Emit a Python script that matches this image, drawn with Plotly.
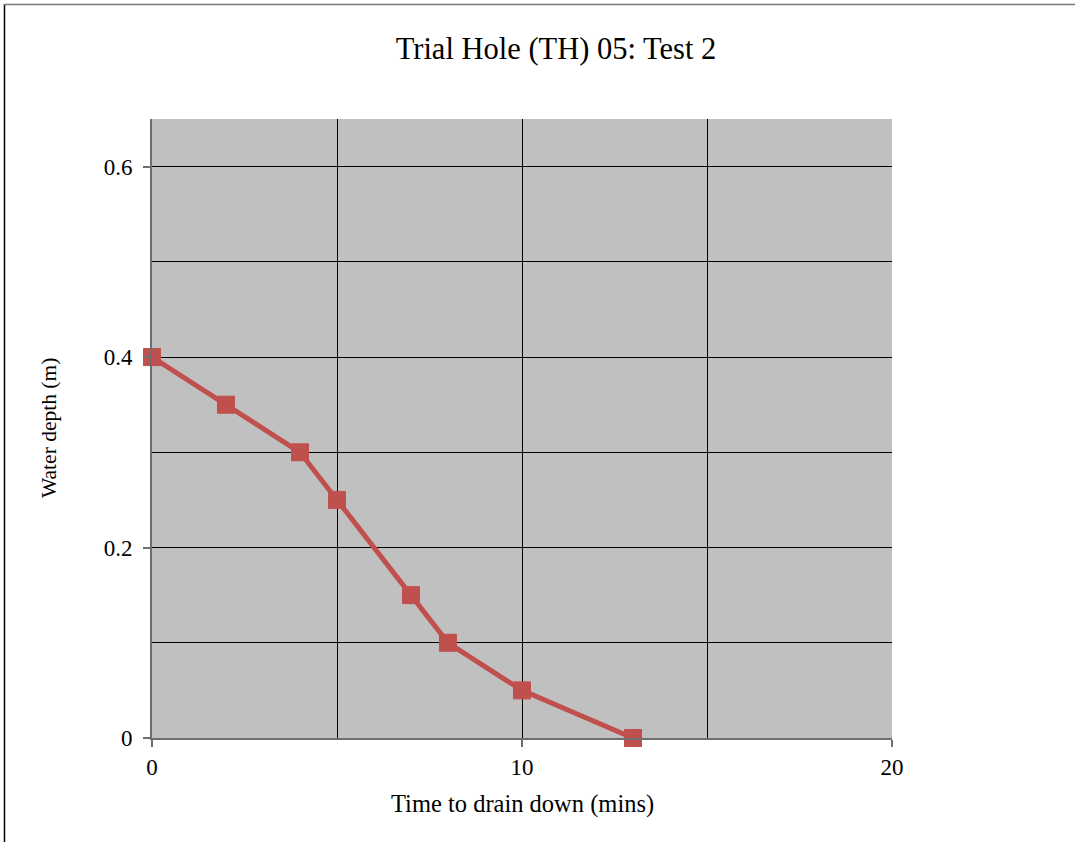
import plotly.graph_objects as go

time_mins = [0, 2, 4, 5, 7, 8, 10, 13]
water_depth_m = [0.4, 0.35, 0.3, 0.25, 0.15, 0.1, 0.05, 0.0]

W, H = 1075, 842
L, R, T, B = 152, 183, 119, 104
pw, ph = W - L - R, H - T - B

def px_x(px):
    return (px - L) / pw

def px_y(py):
    return (H - B - py) / ph

font_family = "Liberation Serif, Times New Roman, serif"

fig = go.Figure()
fig.add_trace(go.Scatter(
    x=time_mins, y=water_depth_m, mode="lines+markers",
    line=dict(color="#C0504D", width=5),
    marker=dict(symbol="square", size=17, color="#C0504D",
                line=dict(color="#C0504D", width=1)),
    showlegend=False, cliponaxis=False,
))

fig.update_layout(
    width=W, height=H,
    margin=dict(l=L, r=R, t=T, b=B, pad=0),
    paper_bgcolor="white", plot_bgcolor="#C0C0C0",
    font=dict(family=font_family, color="black"),
    title=dict(text="Trial Hole (TH) 05: Test 2", x=556 / W, xref="container",
               xanchor="center", y=1 - 48 / H, yref="container", yanchor="middle",
               font=dict(size=30.5, family=font_family)),
    xaxis=dict(range=[0, 20], dtick=10, tick0=0, showgrid=True, gridcolor="black",
               gridwidth=1, minor=dict(dtick=5, showgrid=True, gridcolor="black", gridwidth=1),
               showline=True, linecolor="#6E6E6E", linewidth=2,
               ticks="outside", ticklen=7, tickcolor="#6E6E6E", tickwidth=2,
               tickfont=dict(size=23), zeroline=False),
    yaxis=dict(range=[0, 0.65], dtick=0.2, tick0=0, showgrid=True, gridcolor="black",
               gridwidth=1, minor=dict(dtick=0.1, showgrid=True, gridcolor="black", gridwidth=1),
               showline=True, linecolor="#6E6E6E", linewidth=2,
               ticks="outside", ticklen=7, tickcolor="#6E6E6E", tickwidth=2,
               ticklabelstandoff=6,
               tickfont=dict(size=23), zeroline=False, tickformat="~g"),
    annotations=[
        dict(text="Time to drain down (mins)", xref="paper", yref="paper",
             x=px_x(522), y=px_y(804), xanchor="center", yanchor="middle",
             showarrow=False, font=dict(size=24.5, family=font_family)),
        dict(text="Water depth (m)", xref="paper", yref="paper",
             x=px_x(49), y=px_y(428), xanchor="center", yanchor="middle",
             textangle=-90, showarrow=False, font=dict(size=21.5, family=font_family)),
    ],
    shapes=[
        dict(type="line", xref="paper", yref="paper", x0=px_x(4.5), x1=px_x(4.5),
             y0=px_y(4), y1=px_y(900), line=dict(color="black", width=1.5), layer="above"),
        dict(type="line", xref="paper", yref="paper", x0=px_x(4), x1=px_x(1100),
             y0=px_y(4.5), y1=px_y(4.5), line=dict(color="#777777", width=1.5), layer="above"),
    ],
)

fig.write_html("out.html")
